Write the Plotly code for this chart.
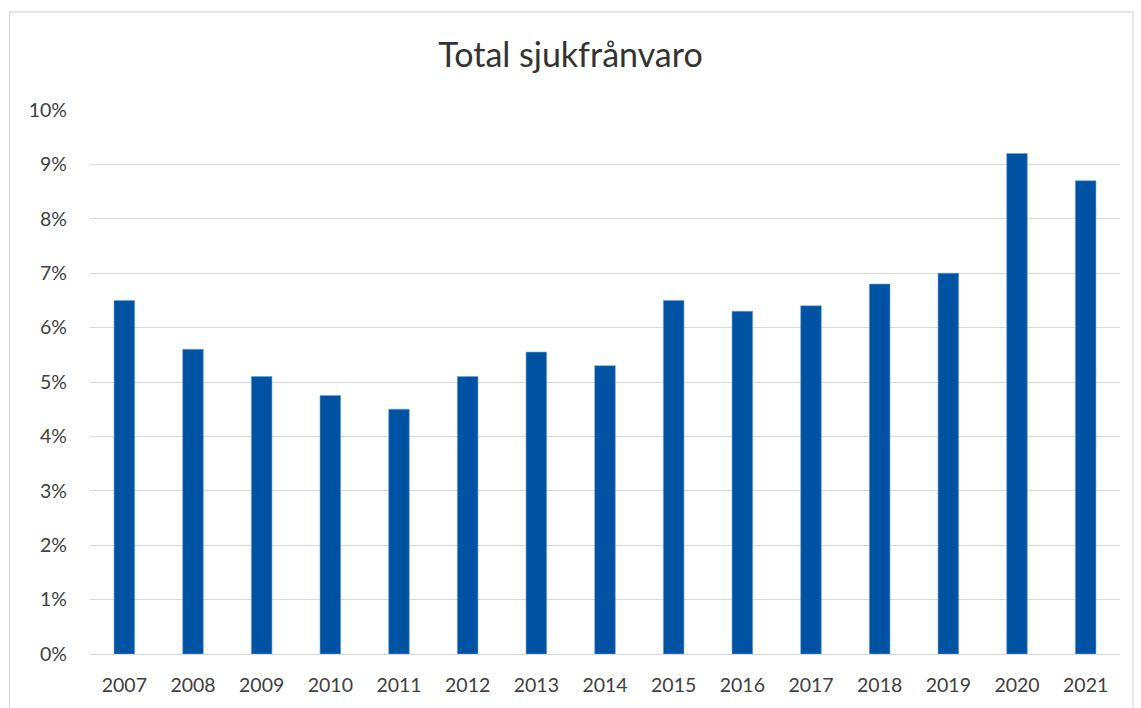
import plotly.graph_objects as go

years = [str(y) for y in range(2007, 2022)]
values = [6.5, 5.6, 5.1, 4.75, 4.5, 5.1, 5.55, 5.3, 6.5, 6.3, 6.4, 6.8, 7.0, 9.2, 8.7]
y_ticks = list(range(0, 11))
y_ticktext = [f"{v}%" for v in y_ticks]

W, H = 1141, 708
L, R, T, B = 90, 21, 110, 52
pw, ph = W - L - R, H - T - B

def px_to_paper_x(x):
    return (x - L) / pw

def px_to_paper_y(y):
    return (H - B - y) / ph

fig = go.Figure(go.Bar(
    x=years, y=values,
    marker=dict(color="#0052A2", line=dict(color="#6E9FD2", width=0.6)),
    width=0.3,
))

fig.update_layout(
    width=W, height=H,
    margin=dict(l=L, r=R, t=T, b=B),
    paper_bgcolor="white", plot_bgcolor="white",
    font=dict(family="Lato, 'Open Sans', sans-serif", color="#404040"),
    title=dict(text="Total sjukfrånvaro", x=0.5, xanchor="center", y=1 - 55 / H, yanchor="middle",
               font=dict(size=34, color="#333333")),
    showlegend=False,
    xaxis=dict(showgrid=False, showline=False, ticks="", tickfont=dict(size=19.5, color="#404040"),
               ticklabelstandoff=17),
    yaxis=dict(range=[0, 10], tickvals=y_ticks, ticktext=y_ticktext, showgrid=True, gridcolor="#D9D9D9",
               gridwidth=1.2, zeroline=True, zerolinecolor="#D9D9D9", zerolinewidth=1.2,
               tickfont=dict(size=19.5, color="#404040"), ticks="", ticklabelstandoff=22),
    shapes=[dict(type="rect", xref="paper", yref="paper",
                 x0=px_to_paper_x(9.5), x1=px_to_paper_x(1133), y0=px_to_paper_y(730), y1=px_to_paper_y(11.5),
                 line=dict(color="#D9D9D9", width=1.2), fillcolor="rgba(0,0,0,0)", layer="below")],
)

fig.write_html("out.html", config={"displayModeBar": False},
               post_script="document.body.style.margin='0';")
